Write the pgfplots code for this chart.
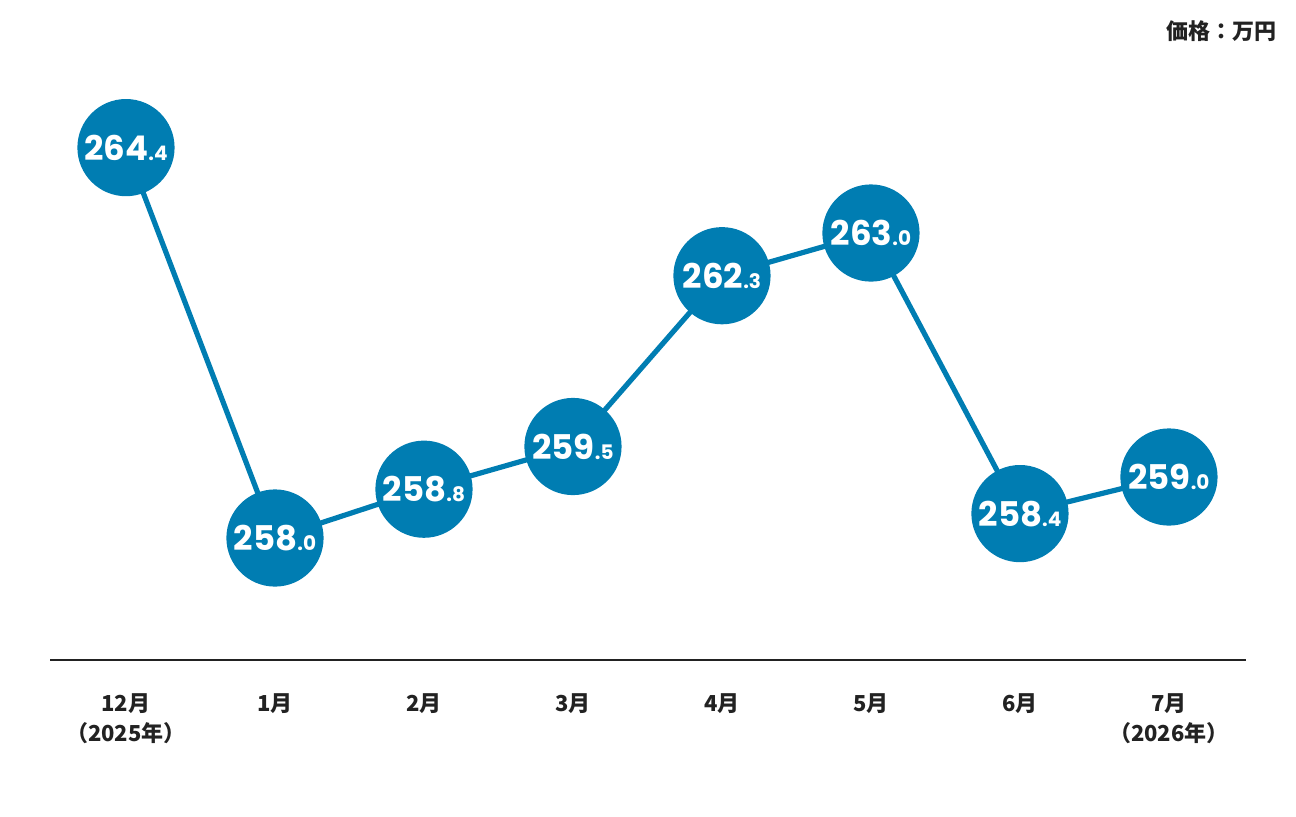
\documentclass[border=0pt]{standalone}
\usepackage{pgfplots}
\pgfplotsset{compat=1.18}
\usepackage{pgfplotstable}
\usepackage{fontspec}
\newfontfamily\jp{Noto Sans CJK JP}
\newfontfamily\numf{Poppins}
\definecolor{pblue}{RGB}{0,125,178}
\definecolor{txt}{RGB}{34,34,34}
\protected\def\sm#1{{\fontsize{10pt}{10pt}\selectfont.#1}}
\pgfplotstableread{
x y lab
0 264.4 264\sm{4}
1 258.0 258\sm{0}
2 258.8 258\sm{8}
3 259.5 259\sm{5}
4 262.3 262\sm{3}
5 263.0 263\sm{0}
6 258.4 258\sm{4}
7 259.0 259\sm{0}
}\prices
\begin{document}
\begin{tikzpicture}
\useasboundingbox (0,0) rectangle (648pt,408pt);
\begin{axis}[
  at={(25pt,78pt)}, anchor=south west,
  scale only axis, width=598pt, height=330pt,
  xmin=-0.51, xmax=7.517, ymin=256, ymax=266.82,
  axis x line=bottom, axis y line=none,
  axis line style={-, line width=1pt, color=txt},
  xtick=data,
  xticklabels={{12月\\（2025年）},1月,2月,3月,4月,5月,6月,{7月\\（2026年）}},
  major tick length=0pt,
  xticklabel style={align=center, font=\jp\bfseries\fontsize{11pt}{15pt}\selectfont, text=txt, yshift=-13.5pt},
  clip=false,
  point meta=explicit symbolic,
  nodes near coords={\numf\bfseries\fontsize{17pt}{17pt}\selectfont\pgfplotspointmeta},
  nodes near coords style={anchor=center, text=white, inner sep=0pt},
]
\addplot[pblue, line width=2.6pt, mark=*, mark size=23pt, mark options={fill=pblue, draw=none}] table[x=x, y=y, meta=lab] {\prices};
\end{axis}
\node[anchor=east, text=txt, font=\jp\bfseries\fontsize{11pt}{13pt}\selectfont] at (642pt,392.5pt) {価格：万円};
\end{tikzpicture}
\end{document}
